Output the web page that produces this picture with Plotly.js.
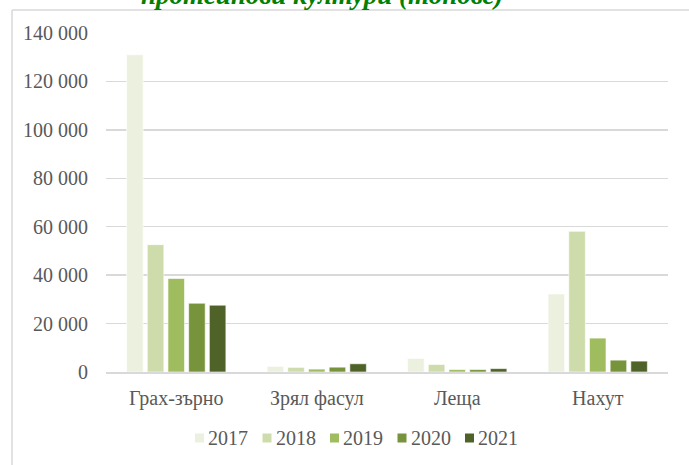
<!DOCTYPE html>
<html>
<head>
<meta charset="utf-8">
<script src="https://cdn.plot.ly/plotly-3.0.1.min.js"></script>
<style>html,body{margin:0;padding:0;background:#fff;}#chart{width:689px;height:465px;}</style>
</head>
<body>
<div id="chart"></div>
<script>
var categories = ["Грах-зърно", "Зрял фасул", "Леща", "Нахут"];
var years = ["2017", "2018", "2019", "2020", "2021"];
var v2017 = [131000, 2300, 5600, 32200];
var v2018 = [52600, 1900, 3100, 58100];
var v2019 = [38600, 1200, 1000, 14000];
var v2020 = [28400, 2000, 1000, 4900];
var v2021 = [27600, 3400, 1400, 4500];
var titleText = "протеинови култури (тонове)";

var seriesValues = [v2017, v2018, v2019, v2020, v2021];
var colors = ["#EBF1DE", "#CDDCAA", "#9FBD5E", "#77933C", "#4F6228"];

var W = 689, H = 465;
var L = 106, R = 21, T = 33, B = 93;
var pw = W - L - R, ph = H - T - B;
function px(x) { return (x - L) / pw; }
function py(y) { return (H - B - y) / ph; }

var serif = "Times New Roman, Liberation Serif, serif";
var textColor = "#595959";
var fs = 20;

var traces = years.map(function (yr, i) {
  return {
    type: "bar",
    name: yr,
    x: categories,
    y: seriesValues[i],
    marker: { color: colors[i], line: { color: "#ffffff", width: 0.6 } },
    hoverinfo: "x+y+name",
    showlegend: false
  };
});

var shapes = [
  { type: "line", xref: "paper", yref: "paper", x0: px(12), x1: px(720), y0: py(10), y1: py(10), line: { color: "#d9d9d9", width: 1.5 } },
  { type: "line", xref: "paper", yref: "paper", x0: px(12), x1: px(12), y0: py(10), y1: py(500), line: { color: "#d9d9d9", width: 1.5 } }
];
var annotations = [
  {
    text: "<b><i>" + titleText + "</i></b>",
    xref: "paper", yref: "paper",
    x: px(321.5), y: py(-5),
    xanchor: "center", yanchor: "middle",
    showarrow: false,
    font: { family: serif, size: 27, color: "#008000" }
  }
];

// legend (drawn as layout decoration from the years/colors arrays)
var legendStart = 208, legendStep = 67.5, legendY = 437.5;
years.forEach(function (yr, i) {
  var tx = legendStart + i * legendStep;
  shapes.push({
    type: "rect", xref: "paper", yref: "paper",
    x0: px(tx - 13), x1: px(tx - 4), y0: py(442.5), y1: py(433.5),
    fillcolor: colors[i], line: { width: 0 }
  });
  annotations.push({
    text: yr, xref: "paper", yref: "paper",
    x: px(tx - 2), y: py(legendY), xanchor: "left", yanchor: "middle",
    showarrow: false, font: { family: serif, size: fs, color: textColor }
  });
});

var layout = {
  width: W,
  height: H,
  margin: { l: L, r: R, t: T, b: B, pad: 0 },
  paper_bgcolor: "#ffffff",
  plot_bgcolor: "#ffffff",
  separators: ", ",
  font: { family: serif, size: fs, color: textColor },
  barmode: "group",
  bargap: 0.264,
  bargroupgap: 0.2,
  showlegend: false,
  xaxis: {
    type: "category",
    showgrid: false,
    showline: true,
    linecolor: "#d9d9d9",
    linewidth: 1.5,
    ticks: "",
    tickfont: { family: serif, size: fs, color: textColor },
    ticklabelstandoff: 7,
    zeroline: false,
    fixedrange: true
  },
  yaxis: {
    range: [0, 140000],
    dtick: 20000,
    tickformat: ",d",
    showgrid: true,
    gridcolor: "#d9d9d9",
    gridwidth: 1.5,
    showline: false,
    zeroline: false,
    ticks: "",
    tickfont: { family: serif, size: fs, color: textColor },
    ticklabelstandoff: 17,
    fixedrange: true
  },
  shapes: shapes,
  annotations: annotations
};

Plotly.newPlot("chart", traces, layout, { displayModeBar: false, staticPlot: true });
</script>
</body>
</html>
